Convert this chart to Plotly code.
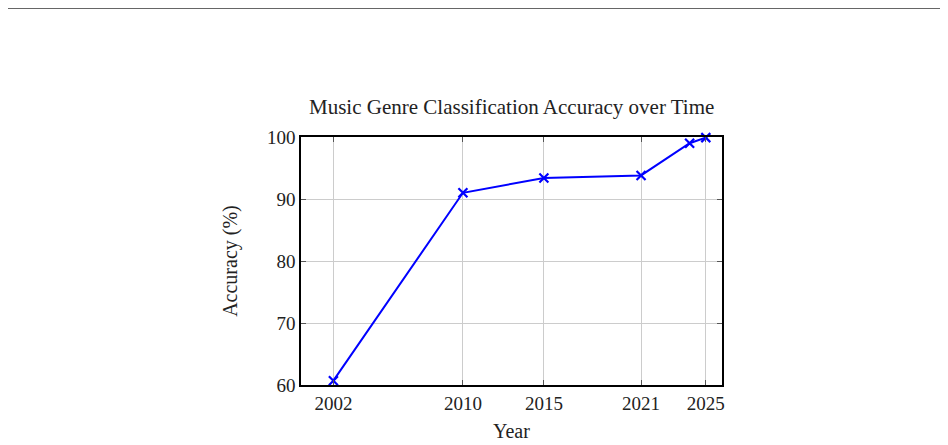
import plotly.graph_objects as go

years = [2002, 2010, 2015, 2021, 2024, 2025]
accuracy = [60.7, 91.0, 93.4, 93.8, 99.0, 99.9]
x_ticks = [2002, 2010, 2015, 2021, 2025]
y_ticks = [60, 70, 80, 90, 100]

font = "Liberation Serif"

fig = go.Figure(go.Scatter(
    x=years, y=accuracy,
    mode="lines+markers",
    line=dict(color="#0000ff", width=2),
    marker=dict(symbol="x-thin", size=9, line=dict(color="#0000ff", width=2.2)),
    cliponaxis=False,
    showlegend=False,
))

axis_common = dict(
    showline=True, linecolor="black", linewidth=1.6, mirror="ticks",
    ticks="inside", ticklen=5, tickcolor="#555555", tickwidth=1,
    showgrid=True, gridcolor="#cccccc", gridwidth=1,
    zeroline=False,
    tickfont=dict(family=font, size=19, color="#222222"),
)

fig.update_xaxes(range=[2000, 2026], tickvals=x_ticks, **axis_common)
fig.update_yaxes(range=[60, 100], tickvals=y_ticks, **axis_common)

# page body adds ~8px offset, so the figure is a bit smaller than the window
fig.update_layout(
    width=940, height=437,
    margin=dict(l=293, r=226, t=128.5, b=59.5),
    plot_bgcolor="white", paper_bgcolor="white",
    font=dict(family=font, color="#222222"),
    annotations=[
        dict(text="Music Genre Classification Accuracy over Time", x=0.5, y=1.1225,
             xref="paper", yref="paper", xanchor="center", yanchor="middle",
             showarrow=False, font=dict(size=21)),
        dict(text="Year", x=0.5, y=-0.187, xref="paper", yref="paper",
             xanchor="center", yanchor="middle", showarrow=False, font=dict(size=20)),
        dict(text="Accuracy (%)", x=-0.169, y=0.5, xref="paper", yref="paper",
             xanchor="center", yanchor="middle", showarrow=False, textangle=-90,
             font=dict(size=20)),
    ],
    shapes=[
        dict(type="line", xref="paper", yref="paper", x0=-0.708, x1=1.53,
             y0=1.52, y1=1.52, line=dict(color="#333333", width=1.5)),
    ],
)

fig.write_html("out.html")
